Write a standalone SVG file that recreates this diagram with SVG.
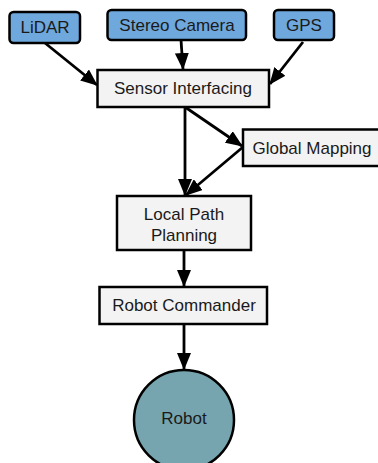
<svg xmlns="http://www.w3.org/2000/svg" width="378" height="463" viewBox="0 0 378 463">
  <style>
    .sensor { fill: #6fa8dc; stroke: #000; stroke-width: 2.5; }
    .proc { fill: #f3f3f3; stroke: #000; stroke-width: 2.5; }
    .robot { fill: #76a5af; stroke: #000; stroke-width: 2.5; }
    text { font-family: "Liberation Sans", Arial, sans-serif; font-size: 17px; fill: #1a1a1a; text-anchor: middle; dominant-baseline: central; }
    .edge { stroke: #000; stroke-width: 2.8; fill: none; marker-end: url(#arrow); }
  </style>
  <defs>
    <marker id="arrow" viewBox="0 0 17 14" refX="16" refY="7" markerWidth="17" markerHeight="14" orient="auto" markerUnits="userSpaceOnUse">
      <path d="M0,0 L17,7 L0,14 z" fill="#000"/>
    </marker>
  </defs>
  <rect width="378" height="463" fill="#fff"/>

  <g id="connectors">
    <line class="edge" x1="45" y1="43" x2="97" y2="85"/>
    <line class="edge" x1="181" y1="40" x2="183" y2="69"/>
    <line class="edge" x1="303" y1="42" x2="270" y2="84"/>
    <line class="edge" x1="185" y1="107" x2="185" y2="195"/>
    <line class="edge" x1="185" y1="107" x2="242" y2="146"/>
    <line class="edge" x1="243" y1="147" x2="186" y2="195"/>
    <line class="edge" x1="184" y1="250" x2="184" y2="286"/>
    <line class="edge" x1="184" y1="324" x2="184" y2="369"/>
  </g>

  <g id="lidar">
    <rect class="sensor" x="9.5" y="12" width="70.5" height="31" rx="4"/>
    <text x="45" y="27.5">LiDAR</text>
  </g>
  <g id="stereo-camera">
    <rect class="sensor" x="107.5" y="10" width="138.5" height="30" rx="4"/>
    <text x="177" y="25">Stereo Camera</text>
  </g>
  <g id="gps">
    <rect class="sensor" x="274" y="10" width="60" height="30" rx="4"/>
    <text x="304" y="25">GPS</text>
  </g>
  <g id="sensor-interfacing">
    <rect class="proc" x="97.5" y="70" width="171.5" height="37"/>
    <text x="183" y="88.5">Sensor Interfacing</text>
  </g>
  <g id="global-mapping">
    <rect class="proc" x="243" y="129.5" width="137" height="36.5"/>
    <text x="312" y="148">Global Mapping</text>
  </g>
  <g id="local-path-planning">
    <rect class="proc" x="117" y="196" width="134" height="54"/>
    <text x="184" y="214">Local Path</text>
    <text x="184" y="235">Planning</text>
  </g>
  <g id="robot-commander">
    <rect class="proc" x="99.5" y="287" width="167.5" height="37"/>
    <text x="184" y="305.5">Robot Commander</text>
  </g>
  <g id="robot">
    <ellipse class="robot" cx="184" cy="420" rx="50" ry="50"/>
    <text x="184" y="418">Robot</text>
  </g>
</svg>
